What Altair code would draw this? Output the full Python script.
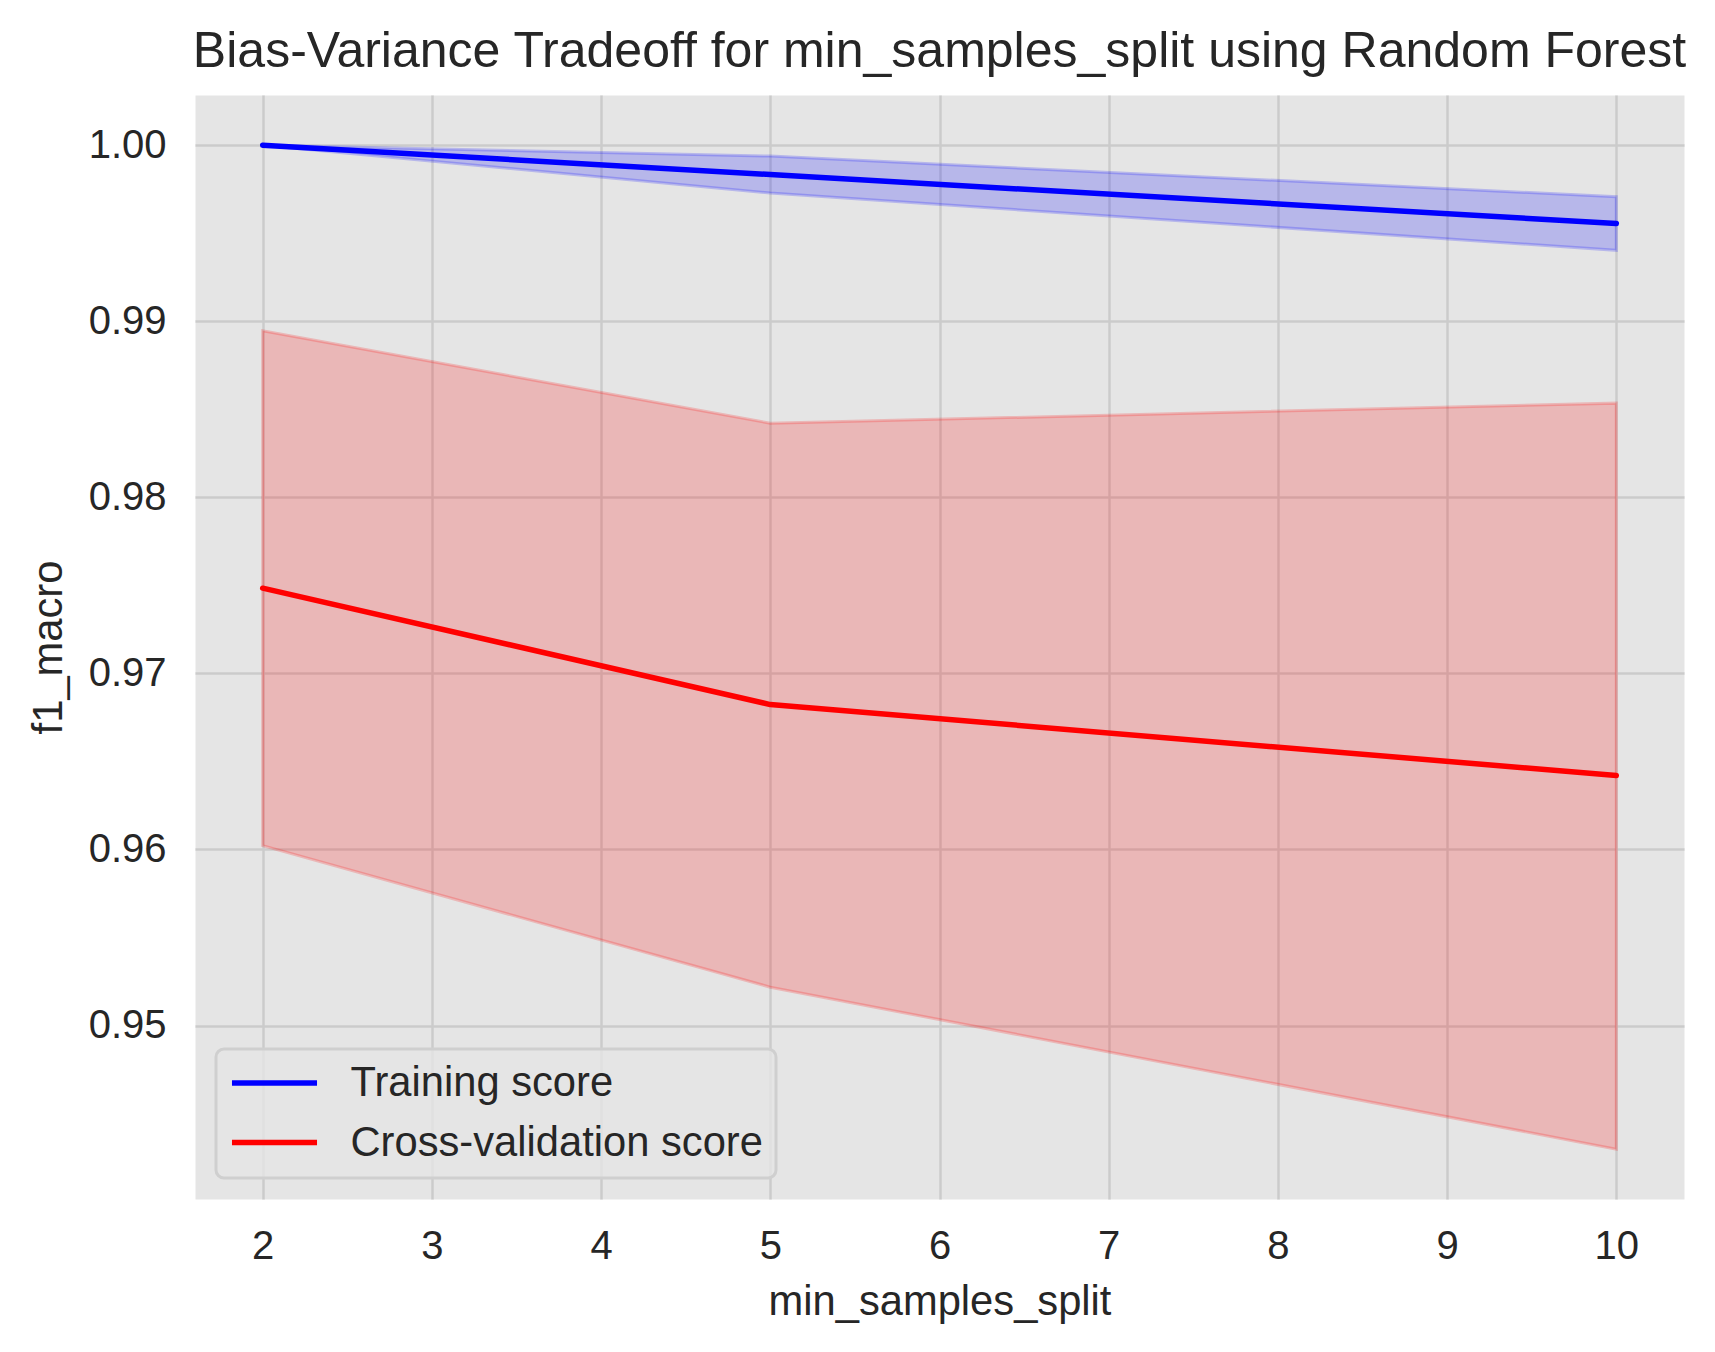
import altair as alt
import pandas as pd

# ---- data ----
x_vals = [2, 5, 10]
series_names = ["Training score", "Cross-validation score"]
series_colors = ["blue", "red"]

train_mean = [1.0, 0.99833, 0.99555]
train_upper = [1.0, 0.99938, 0.99707]
train_lower = [1.0, 0.99728, 0.99403]

cv_mean = [0.97484, 0.96823, 0.96420]
cv_upper = [0.98946, 0.98421, 0.98535]
cv_lower = [0.96022, 0.95218, 0.94298]

x_ticks = [2, 3, 4, 5, 6, 7, 8, 9, 10]
y_ticks = [0.95, 0.96, 0.97, 0.98, 0.99, 1.00]

rows = []
for i, x in enumerate(x_vals):
    rows.append(dict(x=x, series=series_names[0], band=series_names[0] + " band",
                     mean=train_mean[i], lo=train_lower[i], hi=train_upper[i]))
    rows.append(dict(x=x, series=series_names[1], band=series_names[1] + " band",
                     mean=cv_mean[i], lo=cv_lower[i], hi=cv_upper[i]))
df = pd.DataFrame(rows)
band_names = [s + " band" for s in series_names]

# ---- layout ----
W, H = 1489, 1104
L, T = 195, 95
FONT = "Liberation Sans"
TXT = "#262626"
GRID = "#cbcbcb"

xscale = alt.Scale(domain=[1.6, 10.4], nice=False, zero=False)
yscale = alt.Scale(domain=[0.94015, 1.00285], nice=False, zero=False)
cscale = alt.Scale(domain=series_names, range=series_colors)
bscale = alt.Scale(domain=band_names, range=series_colors)

x_axis = alt.Axis(values=x_ticks, format="d", grid=True, gridColor=GRID, gridWidth=2.5,
                  domain=False, ticks=False, tickSize=0, labelFontSize=40, labelFont=FONT,
                  labelColor=TXT, labelBaseline="alphabetic", labelPadding=59,
                  title="min_samples_split", titleFontSize=41.7, titleFont=FONT,
                  titleFontWeight="normal", titleColor=TXT, titleBaseline="alphabetic",
                  titleX=W / 2, titleY=115, titleAlign="center")
y_axis = alt.Axis(values=y_ticks, format=".2f", grid=True, gridColor=GRID, gridWidth=2.5,
                  domain=False, ticks=False, tickSize=0, labelFontSize=40, labelFont=FONT,
                  labelColor=TXT, labelPadding=29,
                  title="f1_macro", titleFontSize=41.7, titleFont=FONT,
                  titleFontWeight="normal", titleColor=TXT, titleBaseline="alphabetic",
                  titleAngle=270, titleX=-134, titleY=H / 2, titleAlign="center")

base = alt.Chart(df)

band = base.mark_area(fillOpacity=0.2, strokeOpacity=0.2, strokeWidth=3).encode(
    x=alt.X("x:Q", scale=xscale, axis=x_axis),
    y=alt.Y("lo:Q", scale=yscale, axis=y_axis),
    y2="hi:Q",
    fill=alt.Fill("band:N", scale=bscale, legend=None),
    stroke=alt.Stroke("band:N", scale=bscale, legend=None),
    detail="band:N",
)

line = base.mark_line(strokeWidth=5.5, strokeCap="round", strokeJoin="round").encode(
    x=alt.X("x:Q", scale=xscale),
    y=alt.Y("mean:Q", scale=yscale),
    color=alt.Color("series:N", scale=cscale, legend=alt.Legend(
        title=None, orient="none", legendX=21, legendY=954,
        symbolType="M-2.33,0H2.33", symbolSize=1332, symbolStrokeWidth=5.5,
        symbolOffset=24.5,
        labelFontSize=41.7, labelFont=FONT, labelColor=TXT, labelOffset=55,
        labelLimit=0, rowPadding=16.5, padding=13, cornerRadius=8,
        fillColor="rgba(229,229,229,0.8)", strokeColor="#cfcfcf",
    )),
)

chart = alt.layer(band, line).properties(
    width=W, height=H,
    autosize=alt.AutoSizeParams(type="none"),
    padding={"left": L, "top": T, "right": 1715 - L - W, "bottom": 1352 - T - H},
    title=alt.TitleParams(
        "Bias-Variance Tradeoff for min_samples_split using Random Forest",
        fontSize=50, font=FONT, color=TXT, fontWeight="normal", anchor="middle",
        baseline="alphabetic", offset=27, dy=49, frame="group",
    ),
).configure_view(fill="#e5e5e5", stroke="transparent").configure_legend(strokeWidth=3)

chart.save("out.html", embed_options={"renderer": "svg", "actions": False})
